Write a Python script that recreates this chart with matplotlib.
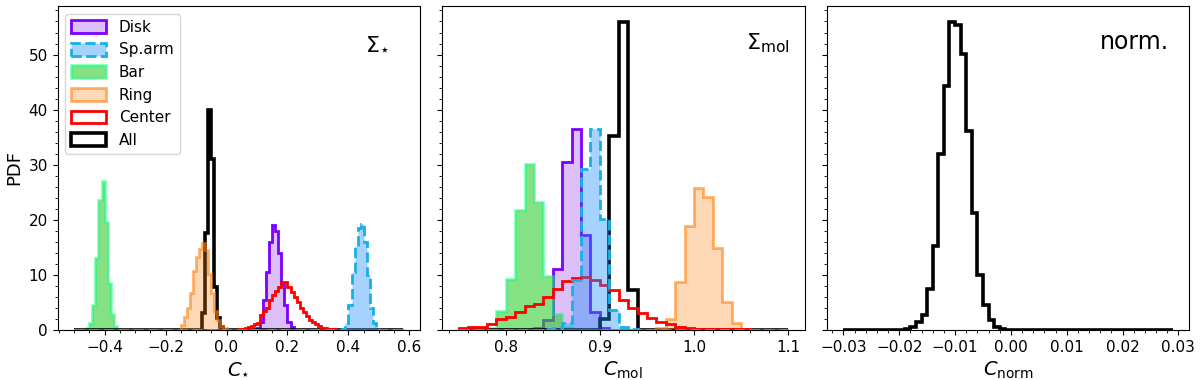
import numpy as np
import matplotlib
matplotlib.use("Agg")
import matplotlib.pyplot as plt
from matplotlib.colors import to_rgba

# bin layout of each panel (lo, hi, width)
P1_BINS = (-0.50, 0.58, 0.01)
P2_BINS = (0.75, 1.10, 0.01)
P3_BINS = (-0.030, 0.029, 0.001)

# panel 1 (C_star): first bin left edge + PDF heights
disk_star_start = 0.10
disk_star = [0.3, 1.5, 5.5, 10.5, 16.0, 19.0, 18.0, 14.0, 8.5, 4.5, 1.5, 0.5]
arm_star_start = 0.38
arm_star = [0.2, 1.2, 4.5, 10.5, 15.3, 18.5, 19.3, 16.0, 10.0, 4.0, 1.3, 0.3]
bar_star_start = -0.46
bar_star = [0.3, 1.2, 4.5, 13.0, 23.5, 27.0, 19.5, 8.5, 2.8, 0.7]
ring_star_start = -0.15
ring_star = [0.8, 2.4, 3.9, 6.6, 10.7, 13.3, 14.6, 15.7, 14.5, 10.2, 6.6, 3.5, 1.8, 0.7, 0.3]
center_star_start = 0.04
center_star = [0.1, 0.2, 0.3, 0.5, 0.7, 1.0, 1.3, 2.7, 3.4, 3.9, 5.4, 6.3, 7.0, 7.8, 8.6, 8.6,
               7.8, 6.9, 6.0, 5.0, 4.0, 3.2, 2.5, 1.8, 1.4, 1.0, 0.7, 0.4, 0.3, 0.2, 0.1, 0.1]
all_star_start = -0.08
all_star = [3.0, 17.5, 40.0, 31.0, 7.8, 2.1, 0.5]

# panel 2 (C_mol)
disk_mol_start = 0.83
disk_mol = [0.3, 1.8, 11.1, 30.5, 36.4, 17.2, 3.3, 0.4]
arm_mol_start = 0.84
arm_mol = [0.2, 0.3, 1.2, 9.0, 29.2, 36.4, 20.2, 3.6, 0.5, 0.1]
bar_mol_start = 0.77
bar_mol = [0.1, 0.3, 3.4, 9.2, 21.8, 30.1, 23.2, 9.8, 2.8, 0.5, 0.1]
ring_mol_start = 0.96
ring_mol = [0.3, 2.0, 8.6, 18.8, 25.7, 24.1, 14.8, 5.1, 1.2, 0.2]
center_mol_start = 0.75
center_mol = [0.3, 0.6, 0.6, 1.0, 1.9, 2.4, 3.3, 4.4, 4.7, 6.0, 7.5, 8.9, 9.5, 9.6, 9.0, 8.2,
              7.2, 5.4, 3.9, 3.0, 2.1, 1.5, 1.0, 0.6, 0.4, 0.2, 0.2, 0.1, 0.1, 0.1, 0.1]
all_mol_start = 0.90
all_mol = [2.0, 35.2, 55.9, 7.3]

# panel 3 (C_norm), all regions only
all_norm_start = -0.019
all_norm = [0.1, 0.5, 1.5, 2.7, 7.5, 15.2, 31.9, 44.3, 55.9, 55.4, 50.1, 36.1, 21.3,
            9.9, 4.5, 1.8, 0.6, 0.2]

labels = ["Disk", "Sp.arm", "Bar", "Ring", "Center", "All"]


def full_hist(bins, start, heights):
    lo, hi, w = bins
    n = int(round((hi - lo) / w))
    edges = np.linspace(lo, hi, n + 1)
    vals = np.zeros(n)
    i0 = int(round((start - lo) / w))
    vals[i0:i0 + len(heights)] = heights
    return vals, edges


styles = {
    "Disk": dict(fill=True, facecolor=to_rgba("blueviolet", 0.3),
                 edgecolor="#7b00ff", lw=2, zorder=2),
    "Sp.arm": dict(fill=True, facecolor=to_rgba("dodgerblue", 0.4),
                   edgecolor="#17b0e6", lw=2, ls="--", zorder=7),
    "Bar": dict(fill=True, facecolor=to_rgba("limegreen", 0.6),
                edgecolor=to_rgba("springgreen", 0.5), lw=2, zorder=3),
    "Ring": dict(fill=True, facecolor=to_rgba("tab:orange", 0.3),
                 edgecolor=to_rgba("tab:orange", 0.6), lw=2, zorder=5),
    "Center": dict(fill=True, facecolor="none", edgecolor="red", lw=2, zorder=6),
    "All": dict(fill=True, facecolor="none", edgecolor="black", lw=2.6, zorder=4),
}

fig, axes = plt.subplots(1, 3, figsize=(12, 3.8), dpi=100, sharey=True)
plt.subplots_adjust(left=0.048, right=0.991, top=0.984, bottom=0.132, wspace=0.062)

panel1 = [(disk_star_start, disk_star), (arm_star_start, arm_star), (bar_star_start, bar_star),
          (ring_star_start, ring_star), (center_star_start, center_star), (all_star_start, all_star)]
panel2 = [(disk_mol_start, disk_mol), (arm_mol_start, arm_mol), (bar_mol_start, bar_mol),
          (ring_mol_start, ring_mol), (center_mol_start, center_mol), (all_mol_start, all_mol)]

ax = axes[0]
for lab, (s, h) in zip(labels, panel1):
    vals, edges = full_hist(P1_BINS, s, h)
    ax.stairs(vals, edges, label=lab, **styles[lab])
ax.legend(loc="upper left", fontsize=11, handlelength=2.3, handleheight=0.9)

ax = axes[1]
for lab, (s, h) in zip(labels, panel2):
    vals, edges = full_hist(P2_BINS, s, h)
    ax.stairs(vals, edges, **styles[lab])

ax = axes[2]
vals, edges = full_hist(P3_BINS, all_norm_start, all_norm)
ax.stairs(vals, edges, **styles["All"])

axes[0].set_ylabel("PDF", fontsize=13)
axes[0].set_xlabel(r"$C_{\star}$", fontsize=14)
axes[1].set_xlabel(r"$C_{\rm mol}$", fontsize=14)
axes[2].set_xlabel(r"$C_{\rm norm}$", fontsize=14)

axes[0].text(0.915, 0.885, r"$\Sigma_{\star}$", transform=axes[0].transAxes,
             ha="right", va="center", fontsize=16)
axes[1].text(0.96, 0.885, r"$\Sigma_{\rm mol}$", transform=axes[1].transAxes,
             ha="right", va="center", fontsize=16)
axes[2].text(0.945, 0.89, "norm.", transform=axes[2].transAxes,
             ha="right", va="center", fontsize=17)

for ax in axes:
    ax.set_ylim(0, 58.8)
    ax.minorticks_on()
    ax.tick_params(labelsize=11)

fig.savefig("out.png", dpi=100)
